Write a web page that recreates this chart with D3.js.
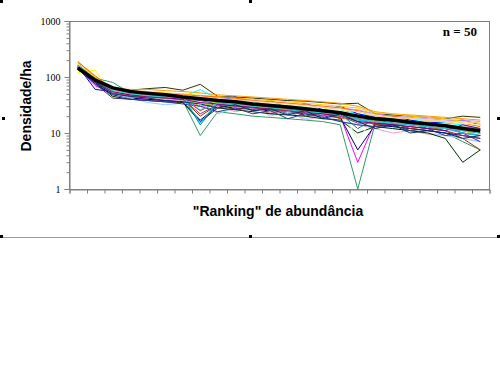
<!DOCTYPE html>
<html>
<head>
<meta charset="utf-8">
<script src="https://cdn.jsdelivr.net/npm/d3@7"></script>
<style>
  body { margin: 0; background: #fff; }
  svg { display: block; }
</style>
</head>
<body>
<div id="chart"></div>
<script>
// ranking positions 1..24
const ranks = d3.range(1, 25);

const yTickValues = [1, 10, 100, 1000];

// mean curve (thick black)
const meanValues = [145, 88, 64, 55, 51, 48, 44, 41, 38, 36, 33, 31, 29, 27, 25, 23, 20, 18, 17, 15.5, 14.5, 13.5, 12, 11];

// individual samples
const s01 = [120, 133, 45, 40, 42, 44, 40, 38, 35, 33, 30, 28, 27, 25, 24, 22, 20, 17, 16, 15, 14, 13, 12, 11];
const s02 = [165, 95, 80, 52, 45, 42, 38, 9, 24, 22, 20, 19, 18, 17, 16, 14, 1, 15, 13, 12, 11, 10, 7, 5];
const s03 = [135, 85, 60, 58, 62, 65, 58, 74, 45, 44, 42, 40, 38, 37, 35, 33, 34, 22, 21, 20, 19, 18, 20, 19];
const s04 = [190, 100, 62, 60, 60, 57, 55, 52, 48, 46, 44, 42, 40, 38, 36, 34, 30, 24, 22, 21, 20, 19, 18, 17];
const s05 = [150, 90, 58, 50, 48, 46, 44, 60, 40, 38, 35, 33, 31, 30, 28, 26, 22, 20, 18, 17, 16, 15, 14, 12];
const s06 = [155, 60, 55, 48, 47, 46, 45, 44, 38, 44, 33, 38, 28, 34, 26, 30, 22, 19, 20, 17, 15, 16, 17, 14];
const s07 = [145, 70, 50, 45, 40, 38, 36, 30, 32, 30, 28, 26, 25, 23, 21, 20, 3, 16, 15, 14, 13, 12, 10, 9];
const s08 = [140, 75, 48, 42, 40, 38, 36, 17, 30, 28, 26, 25, 24, 22, 20, 19, 5, 14, 13, 12, 11, 10, 9, 8];
const s09 = [150, 80, 55, 50, 45, 42, 40, 20, 32, 26, 30, 22, 26, 20, 23, 18, 18, 14, 15, 12, 13, 11, 8, 5];
const s10 = [160, 90, 60, 52, 50, 47, 45, 14, 34, 32, 30, 28, 27, 25, 23, 22, 12, 18, 16, 15, 14, 13, 12, 10];
const s11 = [145, 85, 52, 45, 42, 40, 38, 35, 30, 24, 28, 23, 25, 17, 20, 16, 14, 12, 10, 11, 9.5, 9, 8, 7];
const s12 = [150, 90, 62, 55, 50, 48, 46, 45, 42, 40, 38, 36, 34, 32, 30, 28, 26, 22, 20, 19, 18, 17, 17, 16];
const s13 = [140, 80, 50, 42, 35, 32, 34, 36, 22, 28, 30, 20, 24, 18, 22, 16, 14, 13, 12, 11, 10, 9, 8, 7];
const s14 = [155, 85, 60, 52, 48, 45, 42, 25, 36, 34, 31, 29, 27, 25, 23, 22, 18, 17, 15, 14, 13, 12, 11, 10];
const s15 = [150, 80, 45, 40, 38, 36, 35, 16, 28, 26, 24, 22, 21, 20, 18, 17, 10, 13, 12, 11, 10, 8, 3, 5];
const s16 = [145, 85, 58, 52, 50, 47, 44, 40, 38, 35, 33, 31, 29, 27, 26, 24, 20, 19, 17, 16, 15, 14, 12, 11];
const s17 = [150, 95, 60, 50, 46, 45, 42, 30, 35, 28, 33, 25, 29, 22, 26, 19, 16, 17, 14, 15, 12, 13, 11, 9];
const s18 = [175, 100, 66, 58, 55, 52, 50, 47, 45, 42, 40, 38, 36, 34, 32, 30, 28, 23, 22, 20, 19, 18, 16, 15];
const s19 = [185, 105, 60, 56, 54, 50, 48, 46, 44, 42, 38, 36, 34, 32, 30, 28, 25, 21, 20, 18, 17, 16, 15, 13];
const s20 = [135, 82, 55, 48, 44, 42, 40, 38, 33, 36, 25, 29, 22, 26, 20, 24, 17, 16, 14, 15, 12, 13, 10, 9];
const s21 = [140, 88, 58, 50, 47, 45, 43, 42, 40, 37, 34, 32, 30, 28, 26, 25, 8, 18, 17, 16, 15, 14, 13, 12];
const s22 = [145, 82, 52, 46, 44, 42, 40, 22, 32, 30, 28, 26, 25, 23, 22, 20, 15, 15, 14, 13, 12, 11, 9, 8];
const s23 = [150, 75, 42, 40, 38, 36, 33, 30, 24, 28, 22, 25, 18, 22, 19, 16, 14, 13, 14, 11, 12, 9, 10, 7];
const s24 = [150, 88, 56, 50, 48, 45, 43, 40, 37, 35, 32, 30, 28, 26, 25, 23, 20, 18, 17, 16, 15, 14, 13, 12];
const s25 = [140, 90, 55, 52, 50, 48, 46, 44, 40, 38, 36, 34, 32, 30, 28, 26, 24, 21, 19, 18, 17, 16, 15, 14];
const s26 = [160, 90, 62, 54, 50, 48, 45, 15, 36, 34, 32, 30, 28, 26, 24, 22, 17, 16, 15, 14, 13, 12, 10, 9];
const s27 = [145, 85, 55, 48, 45, 43, 40, 35, 33, 31, 29, 27, 26, 24, 22, 21, 16, 15, 14, 13, 12, 11, 14, 12];
const s28 = [155, 90, 60, 52, 50, 48, 46, 44, 41, 39, 37, 35, 33, 31, 29, 27, 24, 20, 19, 18, 17, 16, 16, 15];
const s29 = [150, 86, 57, 50, 46, 44, 42, 26, 34, 32, 30, 28, 26, 24, 23, 21, 18, 16, 15, 14, 13, 12, 11, 10];
const s30 = [145, 80, 50, 45, 42, 38, 36, 33, 28, 32, 25, 27, 21, 25, 18, 22, 16, 12, 14, 10, 11, 10, 8, 9];

const samples = [s01, s02, s03, s04, s05, s06, s07, s08, s09, s10, s11, s12, s13, s14, s15,
                 s16, s17, s18, s19, s20, s21, s22, s23, s24, s25, s26, s27, s28, s29, s30];

// old Excel line palette
const colors = ["#FFFF00", "#339966", "#333300", "#FF9900", "#00FFFF", "#0000FF", "#FF00FF", "#000080",
                "#993300", "#008080", "#FF99CC", "#CC99FF", "#99CCFF", "#FF0000", "#003300", "#3366FF",
                "#99CC00", "#FFCC00", "#FF6600", "#666699", "#CCFFCC", "#993366", "#333399", "#969696",
                "#FFFF99", "#00CCFF", "#800080", "#FFCC99", "#33CCCC", "#003366"];

const W = 500, H = 376;
const margin = { top: 21, right: 11, bottom: 187, left: 69 };
const width = W - margin.left - margin.right;
const height = H - margin.top - margin.bottom;

const svg = d3.select("#chart").append("svg")
  .attr("width", W)
  .attr("height", H);

// frame of the embedded object: bottom rule and handles
svg.append("line")
  .attr("x1", 2).attr("x2", 498)
  .attr("y1", 237.5).attr("y2", 237.5)
  .attr("stroke", "#9a9a9a");

const handles = [[0, 0], [249, 0], [2, 117], [497, 117], [0, 235], [249, 235], [497, 235]];
svg.append("g").selectAll("rect")
  .data(handles)
  .join("rect")
  .attr("x", d => d[0]).attr("y", d => d[1])
  .attr("width", 3).attr("height", 3)
  .attr("fill", "#000");

const chart = svg.append("g")
  .attr("transform", `translate(${margin.left},${margin.top})`);

// x: one slot per rank, ticks on the slot boundaries
const x = d3.scaleLinear().domain([0, ranks.length]).range([0, width]);
const y = d3.scaleLog().domain([1, 1000]).range([height, 0]);

// plot area border
chart.append("rect")
  .attr("x", 0.5).attr("y", 0.5)
  .attr("width", width).attr("height", height)
  .attr("fill", "none")
  .attr("stroke", "#808080");

// y axis (log) with minor ticks
const minorTicks = [];
for (let dec = 1; dec < 1000; dec *= 10) {
  for (let k = 2; k <= 9; k++) minorTicks.push(dec * k);
}
const yMinor = chart.append("g").attr("transform", "translate(0.5,0)")
  .call(d3.axisLeft(y).tickValues(minorTicks).tickSize(3).tickFormat(""));
yMinor.select(".domain").remove();
yMinor.selectAll(".tick line").attr("stroke", "#808080");

const yAxisG = chart.append("g").attr("transform", "translate(0.5,0)")
  .call(d3.axisLeft(y).tickValues(yTickValues).tickSize(5).tickPadding(4).tickFormat(d3.format("d")));
yAxisG.select(".domain").attr("stroke", "#808080");
yAxisG.selectAll(".tick line").attr("stroke", "#808080");
yAxisG.selectAll(".tick text")
  .attr("fill", "#000")
  .style("font-family", "'Liberation Serif', 'Times New Roman', serif")
  .style("font-size", "10px");

// x axis, no labels
const xAxisG = chart.append("g").attr("transform", `translate(0.5,${height + 0.5})`)
  .call(d3.axisBottom(x).tickValues(d3.range(ranks.length + 1)).tickSize(4).tickFormat(""));
xAxisG.select(".domain").attr("stroke", "#808080");
xAxisG.selectAll(".tick line").attr("stroke", "#808080");

const line = d3.line()
  .x((d, i) => x(i + 0.5))
  .y(d => y(d));

chart.append("g")
  .selectAll("path")
  .data(samples)
  .join("path")
  .attr("d", line)
  .attr("fill", "none")
  .attr("stroke", (d, i) => colors[i % colors.length])
  .attr("stroke-width", 1);

chart.append("path")
  .datum(meanValues)
  .attr("d", line)
  .attr("fill", "none")
  .attr("stroke", "#000")
  .attr("stroke-width", 3.5)
  .attr("stroke-linejoin", "round");

// texts
svg.append("text")
  .attr("x", 477).attr("y", 36)
  .attr("text-anchor", "end")
  .style("font-family", "'Liberation Serif', 'Times New Roman', serif")
  .style("font-weight", "bold")
  .style("font-size", "13px")
  .text("n = 50");

svg.append("text")
  .attr("transform", "translate(31,106) rotate(-90)")
  .attr("text-anchor", "middle")
  .style("font-family", "'Liberation Sans', Arial, sans-serif")
  .style("font-weight", "bold")
  .style("font-size", "14px")
  .text("Densidade/ha");

svg.append("text")
  .attr("x", 278).attr("y", 216)
  .attr("text-anchor", "middle")
  .style("font-family", "'Liberation Sans', Arial, sans-serif")
  .style("font-weight", "bold")
  .style("font-size", "14px")
  .text("\"Ranking\" de abundância");
</script>
</body>
</html>
